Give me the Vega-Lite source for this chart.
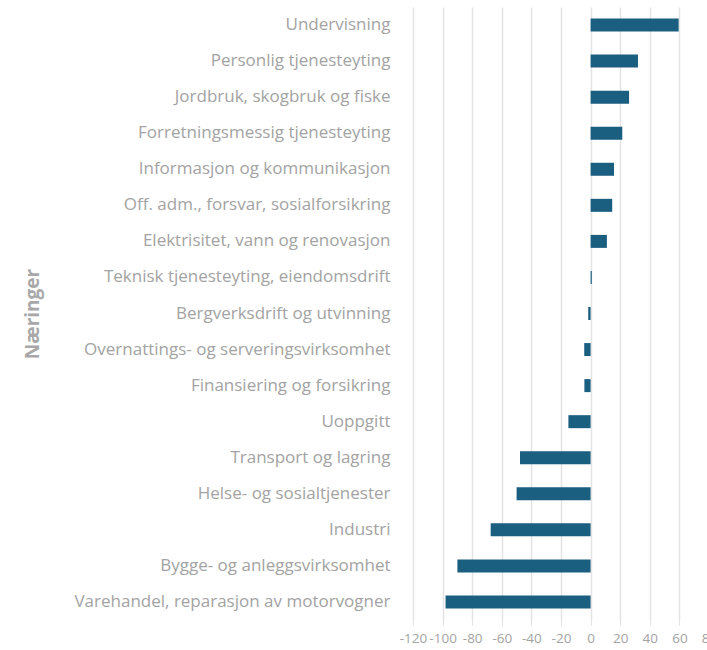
{
  "$schema": "https://vega.github.io/schema/vega-lite/v6.json",
  "autosize": {"type": "none"},
  "padding": {"left": 413, "top": 7, "right": 0, "bottom": 30},
  "width": 296,
  "height": 613,
  "background": "white",
  "data": {"values": [
    {"naering": "Undervisning", "verdi": 59.5},
    {"naering": "Personlig tjenesteyting", "verdi": 32},
    {"naering": "Jordbruk, skogbruk og fiske", "verdi": 26},
    {"naering": "Forretningsmessig tjenesteyting", "verdi": 21.4},
    {"naering": "Informasjon og kommunikasjon", "verdi": 15.8},
    {"naering": "Off. adm., forsvar, sosialforsikring", "verdi": 14.6},
    {"naering": "Elektrisitet, vann og renovasjon", "verdi": 11},
    {"naering": "Teknisk tjenesteyting, eiendomsdrift", "verdi": 0.8},
    {"naering": "Bergverksdrift og utvinning", "verdi": -1.6},
    {"naering": "Overnattings- og serveringsvirksomhet", "verdi": -4.3},
    {"naering": "Finansiering og forsikring", "verdi": -4.2},
    {"naering": "Uoppgitt", "verdi": -15},
    {"naering": "Transport og lagring", "verdi": -47.7},
    {"naering": "Helse- og sosialtjenester", "verdi": -50},
    {"naering": "Industri", "verdi": -67.5},
    {"naering": "Bygge- og anleggsvirksomhet", "verdi": -90},
    {"naering": "Varehandel, reparasjon av motorvogner", "verdi": -98}
  ]},
  "mark": {"type": "bar", "color": "#1a5e80", "size": 13},
  "encoding": {
    "y": {
      "field": "naering", "type": "nominal", "sort": null,
      "scale": {"paddingInner": 0, "paddingOuter": 0},
      "axis": {
        "title": "Næringer", "titleFont": "Open Sans", "titleFontSize": 19, "titleFontWeight": "bold",
        "titleColor": "#a8a8a8", "titleX": -371,
        "labelFont": "Open Sans", "labelFontSize": 17, "labelColor": "#a3a3a3",
        "labelPadding": 23, "labelLimit": 400,
        "domain": false, "ticks": false, "grid": false
      }
    },
    "x": {
      "field": "verdi", "type": "quantitative",
      "scale": {"domain": [-120, 80], "nice": false},
      "axis": {
        "title": null, "values": [-120, -100, -80, -60, -40, -20, 0, 20, 40, 60, 80],
        "labelExpr": "'' + datum.value",
        "labelFont": "Open Sans", "labelFontSize": 13.5, "labelColor": "#a3a3a3",
        "labelPadding": 6, "labelFlush": false, "labelOverlap": false,
        "domain": false, "ticks": true, "tickColor": "#e0e0e0", "tickSize": 5,
        "grid": true, "gridColor": "#e3e3e3", "gridWidth": 1.5
      }
    }
  },
  "config": {"view": {"stroke": null}}
}
